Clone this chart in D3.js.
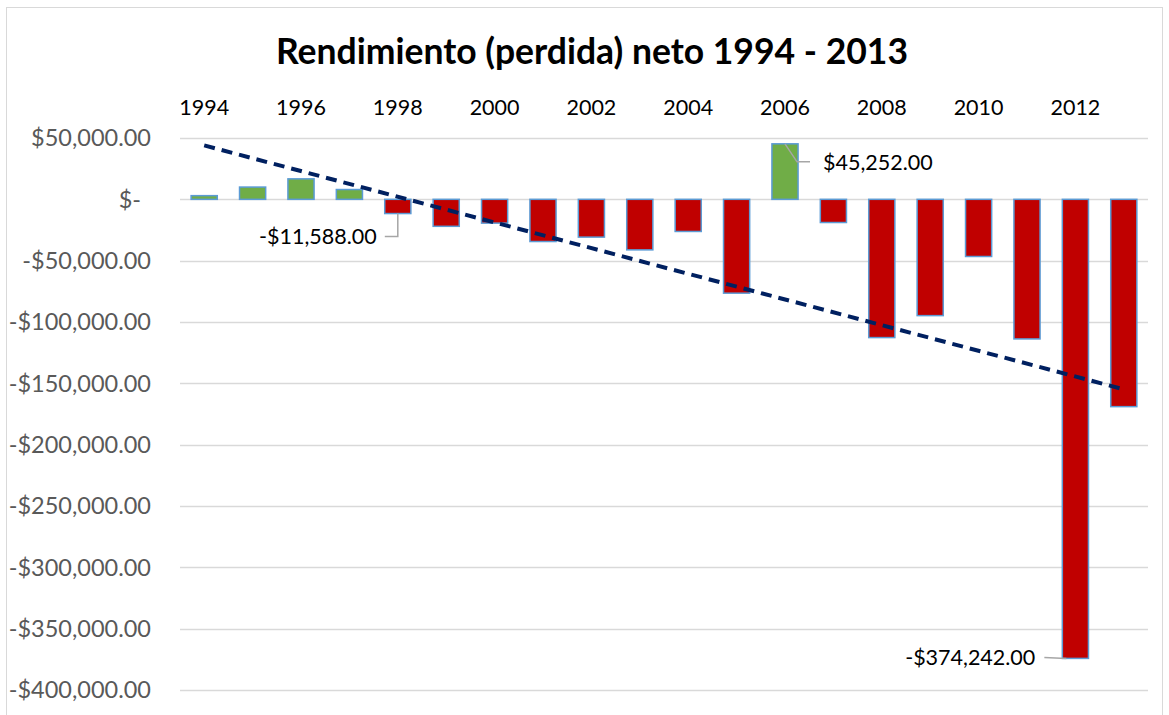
<!DOCTYPE html>
<html>
<head>
<meta charset="utf-8">
<script src="https://cdn.jsdelivr.net/npm/d3@7"></script>
<style>
  body { margin: 0; background: #fff; }
  svg { font-family: Lato, "Open Sans", sans-serif; }
</style>
</head>
<body>
<svg width="1169" height="715"></svg>
<script>
// data
const years = [1994, 1995, 1996, 1997, 1998, 1999, 2000, 2001, 2002, 2003,
               2004, 2005, 2006, 2007, 2008, 2009, 2010, 2011, 2012, 2013];
const netIncome = [3000, 10000, 16700, 8000, -11588, -22000, -19400, -34400, -30800, -41200,
                   -26200, -76500, 45252, -18900, -112700, -94800, -46600, -113800, -374242, -169000];
const yTicks = [50000, 0, -50000, -100000, -150000, -200000, -250000, -300000, -350000, -400000];
const xTickYears = [1994, 1996, 1998, 2000, 2002, 2004, 2006, 2008, 2010, 2012];
const labelYears = [1998, 2006, 2012];

const svg = d3.select("svg");

// chart border
svg.append("rect").attr("x", 6.5).attr("y", 7.5).attr("width", 1156).attr("height", 720)
  .attr("fill", "none").attr("stroke", "#d9d9d9");

svg.append("text").attr("x", 592).attr("y", 64).attr("text-anchor", "middle")
  .attr("font-size", 35.5).attr("font-weight", "bold").attr("fill", "#000")
  .text("Rendimiento (perdida) neto 1994 - 2013");

const x = d3.scaleBand().domain(years).range([180, 1148]).paddingInner(0.46).paddingOuter(0.23);
const y = d3.scaleLinear().domain([-400000, 50000]).range([690, 138]);

const loc = d3.formatLocale({decimal: ".", thousands: ",", grouping: [3], currency: ["$", ""], minus: "-"});
const money = loc.format("$,.2f");
const fmtTick = v => v === 0 ? "$-" : money(v);

// gridlines
svg.append("g").selectAll("line").data(yTicks).join("line")
  .attr("x1", 180).attr("x2", 1148)
  .attr("y1", d => Math.round(y(d)) + 0.5).attr("y2", d => Math.round(y(d)) + 0.5)
  .attr("stroke", "#d9d9d9").attr("stroke-width", 1.5);

// y axis labels
svg.append("g").selectAll("text").data(yTicks).join("text")
  .attr("x", d => d === 0 ? 141 : 151).attr("y", d => y(d)).attr("dy", "0.35em")
  .attr("text-anchor", "end").attr("font-size", 23.5).attr("fill", "#595959")
  .text(fmtTick);

// x axis labels (top)
svg.append("g").selectAll("text").data(xTickYears).join("text")
  .attr("x", d => x(d) + x.bandwidth() / 2).attr("y", 107).attr("dy", "0.35em")
  .attr("text-anchor", "middle").attr("font-size", 21.5).attr("fill", "#000")
  .text(d => d);

// bars
const data = years.map((yr, i) => ({year: yr, value: netIncome[i]}));
svg.append("g").selectAll("rect").data(data).join("rect")
  .attr("x", d => x(d.year))
  .attr("width", x.bandwidth())
  .attr("y", d => y(Math.max(0, d.value)))
  .attr("height", d => Math.abs(y(d.value) - y(0)))
  .attr("fill", d => d.value >= 0 ? "#70ad47" : "#c00000")
  .attr("stroke", "#5b9bd5").attr("stroke-width", 1.5);

// linear trend line
const n = netIncome.length;
const xm = d3.mean(d3.range(n)), ym = d3.mean(netIncome);
const slope = d3.sum(netIncome, (v, i) => (i - xm) * (v - ym)) / d3.sum(d3.range(n), i => (i - xm) ** 2);
const trend = [0, n - 1].map(i => ({year: years[i], value: ym + slope * (i - xm)}));
svg.append("path")
  .attr("d", d3.line().x(d => x(d.year) + x.bandwidth() / 2).y(d => y(d.value))(trend))
  .attr("fill", "none").attr("stroke", "#002060").attr("stroke-width", 4)
  .attr("stroke-dasharray", "11,7");

// data labels with leader lines
const lab = svg.append("g");
labelYears.forEach(yr => {
  const d = data.find(e => e.year === yr);
  const cx = x(yr) + x.bandwidth() / 2;
  if (yr === 1998) {
    const yb = y(d.value);
    lab.append("polyline").attr("points", `${cx},${yb} ${cx},${yb + 23} ${cx - 13},${yb + 23}`)
      .attr("fill", "none").attr("stroke", "#a6a6a6").attr("stroke-width", 1.5);
    lab.append("text").attr("x", cx - 21).attr("y", yb + 23).attr("dy", "0.35em")
      .attr("text-anchor", "end").attr("font-size", 21.5).text(money(d.value));
  } else if (yr === 2006) {
    const yt = y(d.value);
    lab.append("polyline").attr("points", `${cx},${yt} ${cx + 12},${yt + 18} ${cx + 25},${yt + 18}`)
      .attr("fill", "none").attr("stroke", "#a6a6a6").attr("stroke-width", 1.5);
    lab.append("text").attr("x", cx + 38).attr("y", yt + 19).attr("dy", "0.35em")
      .attr("text-anchor", "start").attr("font-size", 21.5).text(money(d.value));
  } else {
    const yb = y(d.value);
    lab.append("polyline").attr("points", `${x(yr) + 4},${yb} ${x(yr) - 18},${yb - 1}`)
      .attr("fill", "none").attr("stroke", "#a6a6a6").attr("stroke-width", 1.5);
    lab.append("text").attr("x", x(yr) - 27).attr("y", yb - 1).attr("dy", "0.35em")
      .attr("text-anchor", "end").attr("font-size", 21.5).text(money(d.value));
  }
});
</script>
</body>
</html>
